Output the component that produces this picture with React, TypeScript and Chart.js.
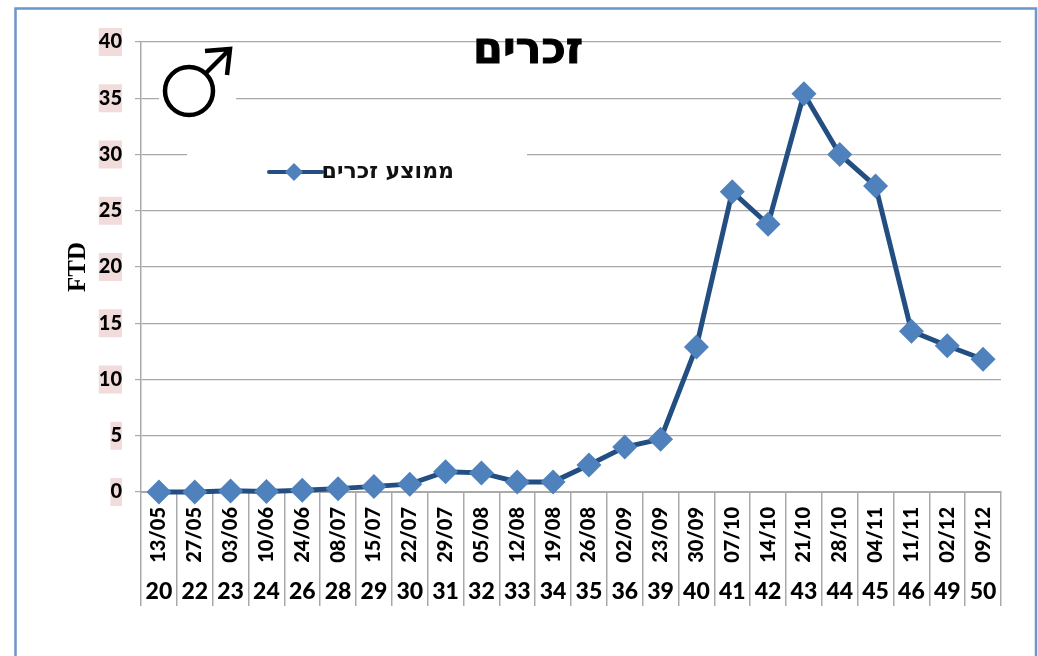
import React, { useEffect, useRef } from "react";
import { Chart, registerables } from "chart.js";

Chart.register(...registerables);

const dates = ["13/05","27/05","03/06","10/06","24/06","08/07","15/07","22/07","29/07","05/08","12/08","19/08","26/08","02/09","23/09","30/09","07/10","14/10","21/10","28/10","04/11","11/11","02/12","09/12"];
const weeks = ["20","22","23","24","26","28","29","30","31","32","33","34","35","36","39","40","41","42","43","44","45","46","49","50"];
const maleAverage = [0,0,0.1,0.05,0.15,0.3,0.5,0.7,1.8,1.7,0.9,0.9,2.4,4,4.7,12.9,26.7,23.8,35.4,30,27.2,14.3,13,11.8];

const TITLE = "זכרים";
const SERIES = "ממוצע זכרים";
const LINE = "#224E82";
const MARKER = "#4F81BD";
const GRID = "#A9A9A9";

const annotations = {
  id: "annotations",
  beforeDraw(chart: any) {
    const c = chart.ctx;
    c.save();
    c.fillStyle = "#fff";
    c.fillRect(0, 0, chart.width, chart.height);
    c.strokeStyle = "#6A97CC";
    c.lineWidth = 2.5;
    c.beginPath();
    c.moveTo(15.5, 656);
    c.lineTo(15.5, 8.5);
    c.lineTo(1036, 8.5);
    c.lineTo(1036, 656);
    c.stroke();
    c.restore();
  },
  beforeDatasetsDraw(chart: any) {
    const c = chart.ctx;
    c.save();
    c.fillStyle = "#fff";
    c.fillRect(159, 60, 77, 60);
    c.fillRect(187, 125, 340, 60);
    // male symbol
    c.strokeStyle = "#000";
    c.lineWidth = 4.5;
    c.beginPath();
    c.arc(189, 91, 24, 0, Math.PI * 2);
    c.stroke();
    c.beginPath();
    c.moveTo(206, 73);
    c.lineTo(230, 49);
    c.moveTo(205, 51);
    c.lineTo(230, 49);
    c.lineTo(227, 75);
    c.stroke();
    // title
    c.fillStyle = "#000";
    c.strokeStyle = "#000";
    c.lineWidth = 1;
    c.font = "bold 43px 'DejaVu Sans'";
    c.textAlign = "center";
    c.textBaseline = "middle";
    c.fillText(TITLE, 528, 52);
    c.strokeText(TITLE, 528, 52);
    // legend
    c.strokeStyle = LINE;
    c.lineWidth = 4;
    c.lineCap = "round";
    c.beginPath();
    c.moveTo(269, 172);
    c.lineTo(322, 172);
    c.stroke();
    c.fillStyle = MARKER;
    c.beginPath();
    c.moveTo(294, 163);
    c.lineTo(303, 172);
    c.lineTo(294, 181);
    c.lineTo(285, 172);
    c.closePath();
    c.fill();
    c.fillStyle = "#111";
    c.font = "bold 22px 'DejaVu Sans'";
    c.textAlign = "right";
    c.fillText(SERIES, 454, 172);
    c.restore();
  },
};

export default function App() {
  const ref = useRef<HTMLCanvasElement>(null);
  useEffect(() => {
    const chart = new Chart(ref.current!, {
      type: "line",
      data: {
        labels: dates,
        datasets: [
          {
            label: SERIES,
            data: maleAverage,
            borderColor: LINE,
            borderWidth: 5,
            tension: 0,
            pointStyle: "rectRot",
            pointRadius: 12.5,
            pointBackgroundColor: MARKER,
            pointBorderColor: MARKER,
            pointBorderWidth: 0,
            xAxisID: "x",
            yAxisID: "y",
            clip: false,
          },
        ],
      },
      plugins: [annotations],
      options: {
        responsive: false,
        animation: false,
        layout: { padding: { left: 64, right: 37, top: 42, bottom: 50 } },
        plugins: { legend: { display: false }, title: { display: false }, tooltip: { enabled: false } },
        scales: {
          y: {
            min: 0,
            max: 40,
            afterFit: (s: any) => { s.width = 77; },
            title: { display: true, text: "FTD", color: "#000", padding: 0, font: { family: "'Liberation Serif'", weight: "bold", size: 25 } },
            border: { color: GRID, width: 1.5 },
            grid: { color: GRID, lineWidth: 1.2, tickLength: 6 },
            ticks: {
              stepSize: 5,
              color: "#000",
              padding: 13,
              font: { family: "Lato", weight: "900", size: 20 },
              showLabelBackdrop: true,
              backdropColor: "#F2DCDB",
              backdropPadding: { left: 0, right: 0, top: 2, bottom: 2 },
            },
          },
          x: {
            type: "category",
            position: "bottom",
            offset: true,
            afterFit: (s: any) => { s.height = 72; },
            border: { color: GRID, width: 2 },
            grid: { offset: true, drawOnChartArea: false, color: GRID, lineWidth: 1.5, tickLength: 114 },
            ticks: {
              autoSkip: false,
              minRotation: 90,
              maxRotation: 90,
              padding: -99,
              color: "#000",
              font: { family: "Lato", weight: "900", size: 20 },
            },
          },
          x2: {
            type: "category",
            position: "bottom",
            offset: true,
            labels: weeks,
            afterFit: (s: any) => { s.height = 42; },
            border: { display: false },
            grid: { display: false, drawTicks: false },
            ticks: {
              autoSkip: false,
              maxRotation: 0,
              minRotation: 0,
              padding: 14,
              color: "#000",
              font: { family: "Lato", weight: "900", size: 23 },
            },
          },
        },
      } as any,
    });
    return () => chart.destroy();
  }, []);
  return (
    <div style={{ position: "fixed", left: 0, top: 0, width: 1038, height: 656 }}>
      <canvas ref={ref} width={1038} height={656} style={{ display: "block" }} />
    </div>
  );
}
